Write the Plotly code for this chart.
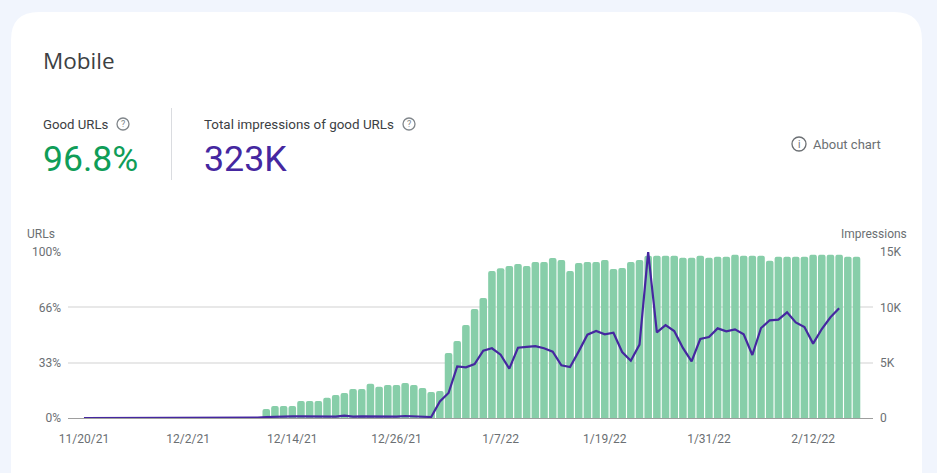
"""Search Console style "Mobile" card: good URLs as bars, impressions as a line."""

import pandas as pd
import plotly.graph_objects as go

WIDTH = 937
HEIGHT = 473

GREEN = "#87cea9"
PURPLE = "#4527a0"
GREY = "#6b6f73"
FONT = "Roboto, Arial, sans-serif"

dates = pd.date_range("2021-11-20", "2022-02-17").strftime("%Y-%m-%d").tolist()

# Share of good URLs, percent, one per day.
good_urls = [
    0, 0, 0, 0, 0, 0, 0, 0, 0, 0, 0, 0, 0, 0, 0, 0, 0, 0, 0, 0, 0,
    5.4, 7.2, 7.2, 7.2, 10.2, 10.2, 10.2, 12.2, 13.9, 15.1, 17.5, 17.5, 20.7, 18.9,
    19.9, 19.9, 21.1, 19.9, 18.1, 15.7, 16.3, 39.2, 46.4, 56.0, 65.7, 72.3, 88.6,
    90.2, 91.6, 92.8, 91.6, 94.0, 94.0, 96.4, 95.2, 88.6, 93.4, 94.0, 94.0, 95.2,
    89.8, 90.4, 94.0, 95.2, 97.8, 97.8, 97.8, 97.8, 96.6, 96.6, 97.8, 96.6, 97.2,
    97.2, 98.4, 97.8, 97.8, 97.8, 94.8, 97.2, 97.2, 97.2, 97.2, 98.4, 98.4, 98.4,
    98.4, 97.2, 97.2,
]

# Impressions per day, the line stops two days before the bars do.
impressions = [
    0, 0, 0, 0, 0, 0, 0, 0, 0, 0, 0, 0, 0, 0, 0, 0, 0, 0, 0, 0, 30,
    90, 130, 150, 150, 150, 150, 150, 90, 120, 210, 120, 150, 150, 120,
    90, 120, 180, 150, 90, 90, 1500, 2260, 4670, 4580, 4880, 6080, 6300,
    5720, 4460, 6350, 6420, 6500, 6300, 6000, 4760, 4610, 6020, 7530, 7860, 7560,
    7710, 5960, 5180, 6630, 15000, 7740, 8400, 7860, 6330, 5120, 7140, 7320, 8100,
    7830, 8010, 7560, 5690, 8130, 8830, 8890, 9550, 8640, 8220, 6720, 8040, 9100,
    9910,
]

x_ticks = ["2021-11-20", "2021-12-02", "2021-12-14", "2021-12-26", "2022-01-07",
           "2022-01-19", "2022-01-31", "2022-02-12"]
x_labels = ["11/20/21", "12/2/21", "12/14/21", "12/26/21", "1/7/22", "1/19/22",
            "1/31/22", "2/12/22"]
url_ticks = [0, 33.33, 66.67, 100]
url_labels = ["0%", "33%", "66%", "100%"]
impression_ticks = [0, 5000, 10000, 15000]
impression_labels = ["0", "5K", "10K", "15K"]


def px(x):
    return x / WIDTH


def py(y):
    return 1 - y / HEIGHT


def label(x, y, text, size, color, anchor="left", family=FONT):
    return dict(
        x=px(x), y=py(y), xref="paper", yref="paper", text=text, showarrow=False,
        xanchor=anchor, yanchor="middle", borderpad=0,
        font=dict(family=family, size=size, color=color),
    )


def icon(cx, cy, r, color):
    return dict(
        type="circle", xref="paper", yref="paper",
        x0=px(cx - r), x1=px(cx + r), y0=py(cy + r), y1=py(cy - r),
        line=dict(color=color, width=1.3),
    )


# White card, rounded on top, running off the bottom of the page.
card_path = (
    f"M {px(11)},{py(473)} L {px(11)},{py(40)} "
    f"Q {px(11)},{py(12)} {px(39)},{py(12)} "
    f"L {px(894)},{py(12)} Q {px(922)},{py(12)} {px(922)},{py(40)} "
    f"L {px(922)},{py(473)} Z"
)

fig = go.Figure()
fig.add_trace(go.Bar(x=dates, y=good_urls, marker=dict(color=GREEN, line_width=0), yaxis="y"))
fig.add_trace(go.Scatter(
    x=dates[:len(impressions)], y=impressions, mode="lines", yaxis="y2",
    line=dict(color=PURPLE, width=2.2),
))

fig.update_layout(
    width=WIDTH,
    height=HEIGHT,
    autosize=False,
    margin=dict(l=0, r=0, t=0, b=0, pad=0, autoexpand=False),
    paper_bgcolor="#f1f5fd",
    plot_bgcolor="rgba(0,0,0,0)",
    showlegend=False,
    bargap=0.13,
    barcornerradius=2,
    font=dict(family=FONT, size=12, color=GREY),
    xaxis=dict(
        domain=[px(68), px(873)],
        type="date",
        automargin=False,
        range=["2021-11-18 03:50", "2022-02-18 21:36"],
        tickmode="array", tickvals=x_ticks, ticktext=x_labels,
        showgrid=False, zeroline=False, showline=True, linecolor="#9e9e9e", linewidth=1,
        ticks="", ticklabelstandoff=10, tickfont=dict(size=12, color=GREY),
    ),
    yaxis=dict(
        domain=[py(418), py(252)],
        range=[0, 100],
        automargin=False,
        tickmode="array", tickvals=url_ticks, ticktext=url_labels,
        showgrid=True, gridcolor="#e8e8e8", gridwidth=1.5, zeroline=False,
        ticks="", ticklabelstandoff=6, tickfont=dict(size=12, color=GREY),
    ),
    yaxis2=dict(
        overlaying="y", side="right",
        range=[0, 15000],
        automargin=False,
        tickmode="array", tickvals=impression_ticks, ticktext=impression_labels,
        showgrid=False, zeroline=False,
        ticks="", ticklabelstandoff=6, tickfont=dict(size=12, color=GREY),
    ),
    shapes=[
        dict(type="path", path=card_path, xref="paper", yref="paper", layer="below",
             fillcolor="#ffffff", line_width=0),
        dict(type="line", xref="paper", yref="paper", x0=px(171.5), x1=px(171.5),
             y0=py(108), y1=py(180), line=dict(color="#dadce0", width=1)),
        icon(123, 124, 6, "#80868b"),
        icon(409, 124, 6, "#80868b"),
        icon(799, 144, 7, GREY),
    ],
    annotations=[
        label(41.5, 60, "Mobile", 22.5, "#3c4043", family="Open Sans, Arial, sans-serif"),
        label(41.5, 124, "Good URLs", 13.2, "#3c4043"),
        label(202.5, 124, "Total impressions of good URLs", 13.4, "#3c4043"),
        label(42, 159, "96.8%", 35.5, "#0f9d58"),
        label(203, 159, "323K", 35.8, PURPLE),
        label(123, 124, "?", 9, "#80868b", anchor="center"),
        label(409, 124, "?", 9, "#80868b", anchor="center"),
        label(799, 144, "i", 10, GREY, anchor="center"),
        label(812, 144, "About chart", 13, GREY),
        label(26, 234, "URLs", 12, GREY),
        label(908, 234, "Impressions", 12, GREY, anchor="right"),
    ],
)

fig.write_html(
    "out.html",
    config={"displayModeBar": False},
    post_script="document.body.style.margin='0';document.documentElement.style.overflow='hidden';",
)
